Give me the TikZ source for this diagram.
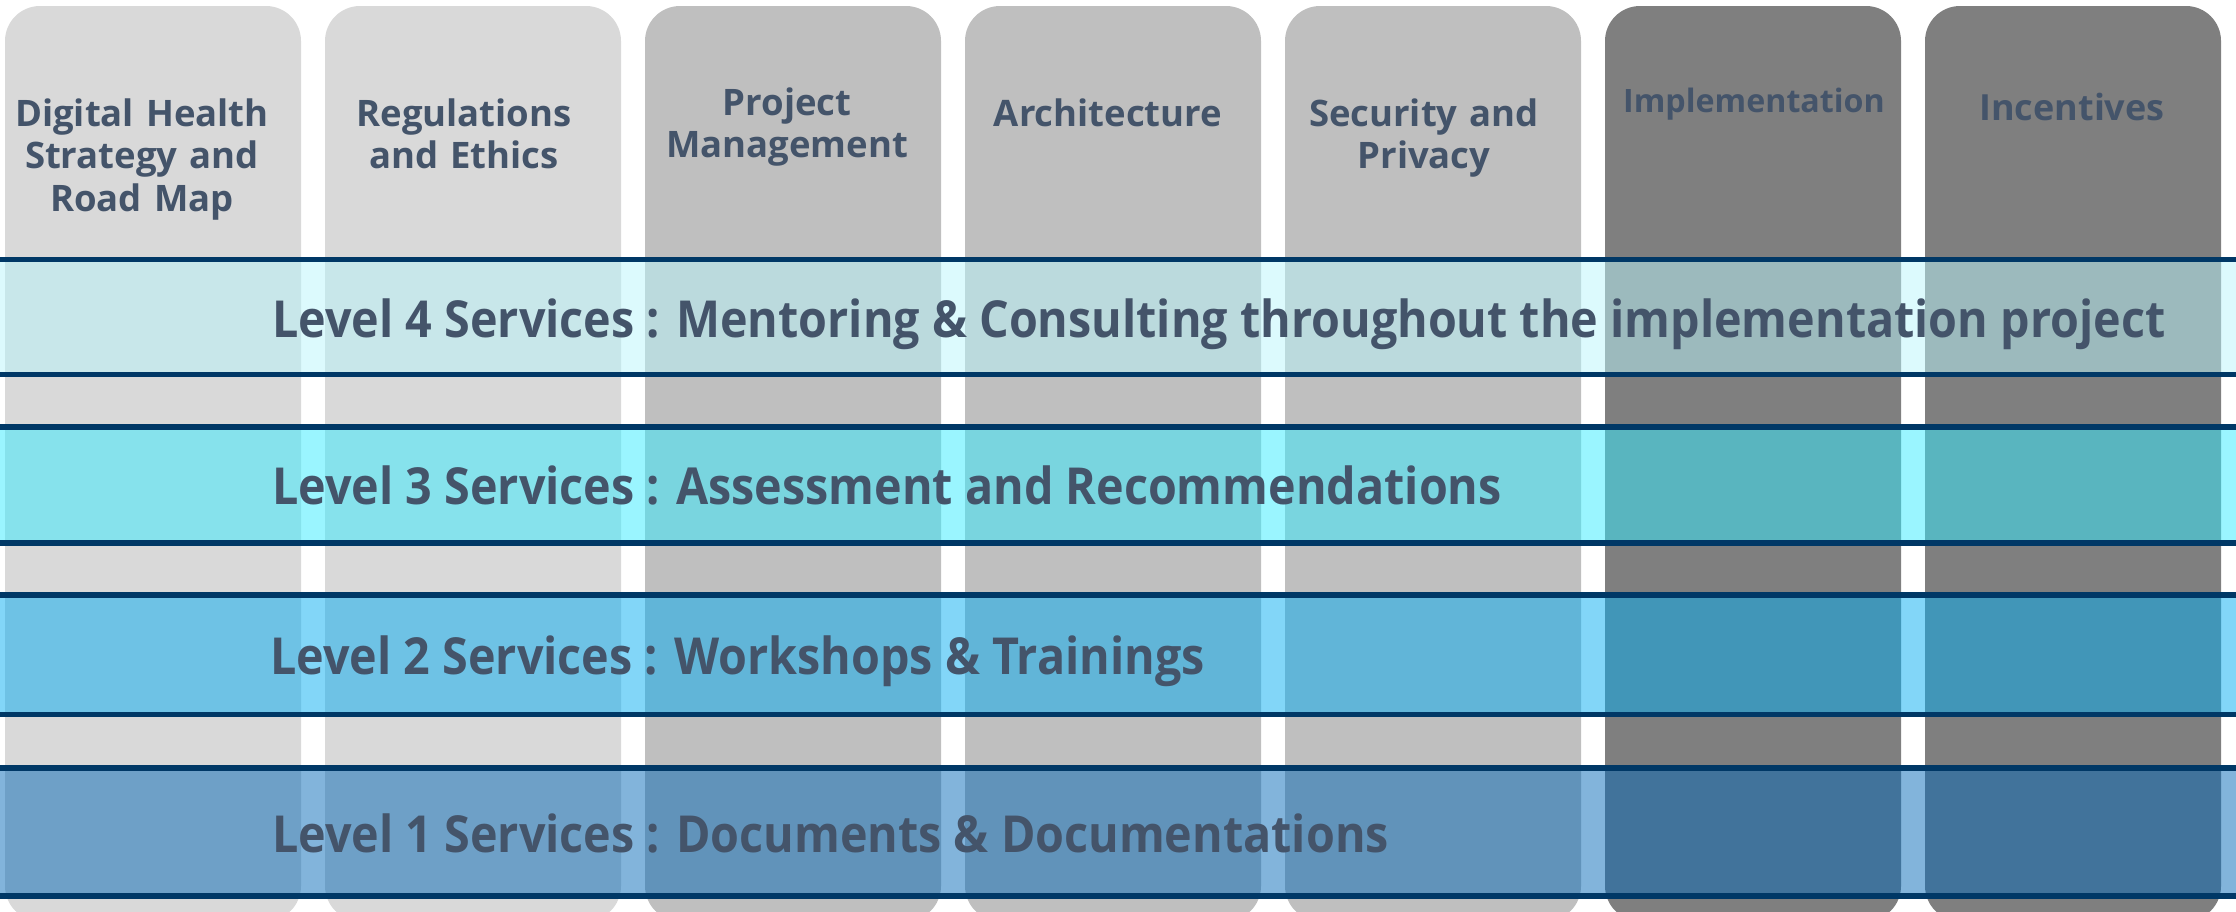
\documentclass[tikz,border=0pt]{standalone}
\usepackage{fontspec}
\setmainfont{Open Sans}
\newfontfamily\bandfont{Open Sans}[FakeStretch=0.915]
\definecolor{colA}{RGB}{217,217,217}
\definecolor{colB}{RGB}{191,191,191}
\definecolor{colC}{RGB}{127,127,127}
\definecolor{txt}{RGB}{68,84,106}
\definecolor{navy}{RGB}{0,56,102}
\definecolor{bandfour}{RGB}{185,245,251}
\definecolor{bandthree}{RGB}{53,235,255}
\definecolor{bandtwo}{RGB}{5,173,241}
\definecolor{bandone}{RGB}{5,105,183}
\tikzset{
  colbox/.style={rounded corners=17.5pt},
  coltitle/.style={text=txt, font=\bfseries\fontsize{18.25pt}{21.25pt}\selectfont,
    text width=148pt, align=center, inner sep=0pt, anchor=base},
  bandfill/.style={fill opacity=0.5},
  navyline/.style={draw=navy, line width=2.75pt},
  bandtext/.style={text=txt, font=\bandfont\bfseries\fontsize{25.5pt}{30pt}\selectfont,
    inner sep=0pt, anchor=base west},
}
\begin{document}
\begin{tikzpicture}[x=0.5pt,y=-0.5pt]
\useasboundingbox (0,0) rectangle (2236,911);
% columns
\fill[colbox, colA] (5,6) rectangle ++(296,915);
\fill[colbox, colA] (325,6) rectangle ++(296,915);
\fill[colbox, colB] (645,6) rectangle ++(296,915);
\fill[colbox, colB] (965,6) rectangle ++(296,915);
\fill[colbox, colB] (1285,6) rectangle ++(296,915);
\fill[colbox, colC] (1605,6) rectangle ++(296,915);
\fill[colbox, colC] (1925,6) rectangle ++(296,915);
% column titles
\node[coltitle] (t1) at (142,126) {Digital Health\\Strategy and\\Road Map};
\node[coltitle] (t2) at (464,126) {Regulations\\and Ethics};
\node[coltitle] (t3) at (787,115) {Project\\Management};
\node[coltitle] (t4) at (1108,126) {Architecture};
\node[coltitle] (t5) at (1424,126) {Security and\\Privacy};
\node[coltitle, font=\bfseries\fontsize{16.1pt}{19pt}\selectfont] (t6) at (1754,112) {Implementation};
\node[coltitle, font=\bfseries\fontsize{18pt}{21pt}\selectfont] (t7) at (2072,120) {Incentives};
% bands
\fill[bandfill, bandfour] (0,259.5) rectangle (2236,374.5);
\fill[bandfill, bandthree] (0,427) rectangle (2236,543);
\fill[bandfill, bandtwo] (0,595) rectangle (2236,714.5);
\fill[bandfill, bandone] (0,768) rectangle (2236,896);
% navy lines
\draw[navyline] (0,259.5) -- (2236,259.5);
\draw[navyline] (0,374.5) -- (2236,374.5);
\draw[navyline] (0,427) -- (2236,427);
\draw[navyline] (0,543) -- (2236,543);
\draw[navyline] (0,595) -- (2236,595);
\draw[navyline] (0,714.5) -- (2236,714.5);
\draw[navyline] (0,768) -- (2236,768);
\draw[navyline] (0,896) -- (2236,896);
% band labels
\node[bandtext] (l4) at (272,337) {Level 4 Services : Mentoring \& Consulting throughout the implementation project};
\node[bandtext] (l3) at (272,504) {Level 3 Services : Assessment and Recommendations};
\node[bandtext] (l2) at (270,674) {Level 2 Services : Workshops \& Trainings};
\node[bandtext] (l1) at (272,852) {Level 1 Services : Documents \& Documentations};
\end{tikzpicture}
\end{document}
